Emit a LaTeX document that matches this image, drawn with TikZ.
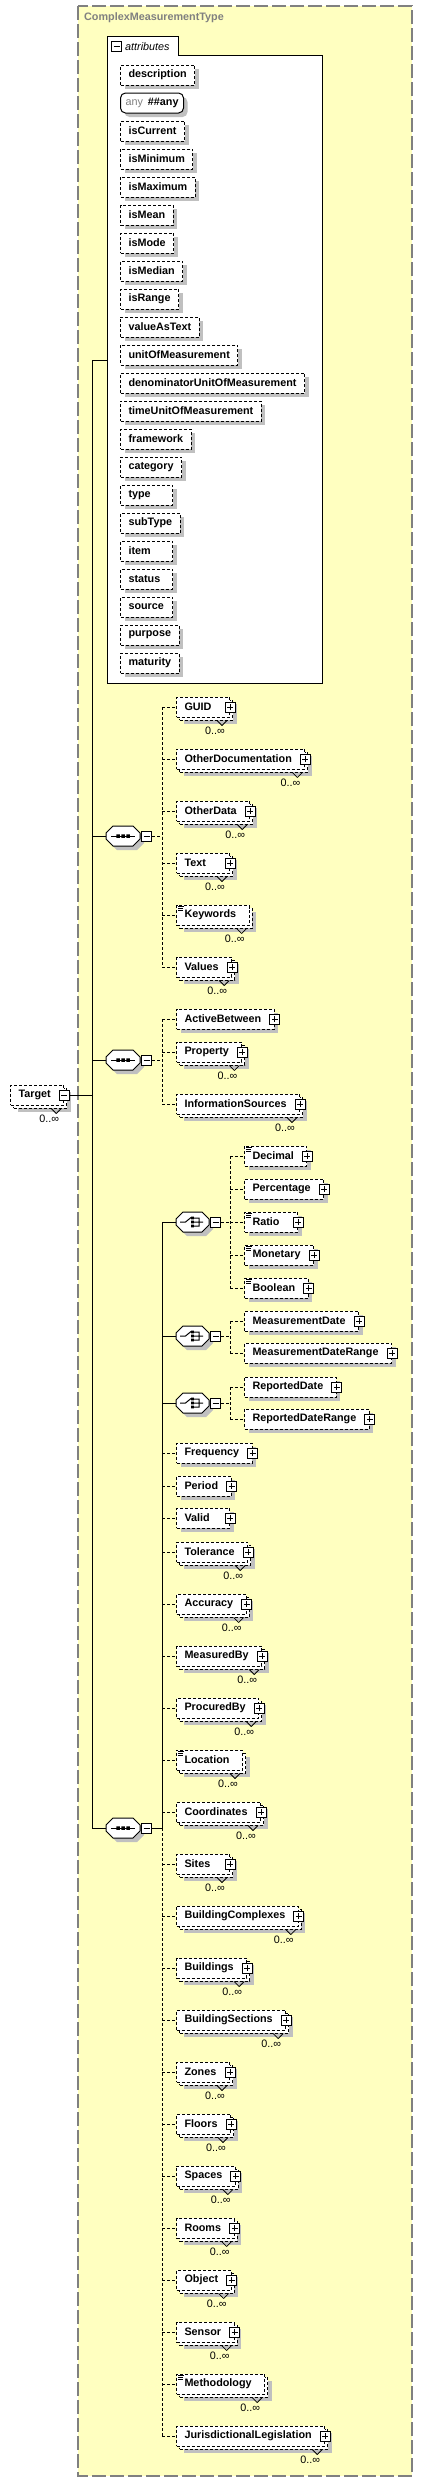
\documentclass[tikz,border=0pt]{standalone}
\usepackage{fontspec}
\setmainfont{Liberation Sans}
\usetikzlibrary{shadows,positioning}

\definecolor{bgyellow}{RGB}{255,255,192}
\definecolor{framegray}{RGB}{128,128,128}
\definecolor{shadowgray}{RGB}{192,192,192}

\tikzset{
  dashline/.style={dash pattern=on 3pt off 2pt},
  conn/.style={draw=black, line width=1pt},
  optconn/.style={conn, dashline},
  iconline/.style={draw=black, solid, line width=0.8pt},
  boxedge/.style={draw=black, solid, line width=1pt, fill=white, to path={rectangle (\tikztotarget)}},
  boxfont/.style={font=\fontsize{10.8}{13}\selectfont\bfseries},
  shade4/.style={drop shadow={shadow xshift=4pt, shadow yshift=-4pt, fill=shadowgray, opacity=1}},
  title/.style={font=\fontsize{10.8}{13}\selectfont\bfseries, text=framegray, anchor=west, inner sep=0pt},
  tabtext/.style={font=\fontsize{10.8}{13}\selectfont\itshape, anchor=west, inner sep=0pt},
  card/.style={font=\fontsize{10.8}{13}\selectfont, inner sep=0pt, text=black},
  attr/.style={boxfont, draw=black, line width=1pt, dashline, fill=white, anchor=west,
    minimum height=20pt, inner xsep=8pt, inner ysep=0pt, shade4,
    execute at begin node={\setbox0=\hbox\bgroup},
    execute at end node={\egroup\hbox to \ifdim\wd0<36pt 36pt\else\wd0\fi{\box0\hfil}}},
  anynode/.style={boxfont, draw=black, solid, line width=1pt, fill=white, anchor=west,
    rounded corners=5pt, minimum height=20pt, inner xsep=5pt, inner ysep=0pt, shade4},
  elem/.style={boxfont, draw=black, line width=1pt, dashline, fill=white, anchor=west,
    minimum height=20pt, inner xsep=8pt, inner ysep=0pt,
    execute at begin node={\setbox0=\hbox\bgroup},
    execute at end node={\egroup\hbox to \ifdim\wd0<32pt 32pt\else\wd0\fi{\box0\hfil}\hspace{5pt}}},
  single/.style={shade4},
  plus/.style={append after command={
    ([xshift=-5pt,yshift=-5pt]\tikzlastnode.east) edge[boxedge] ([xshift=5pt,yshift=5pt]\tikzlastnode.east)
    ([xshift=-3pt]\tikzlastnode.east) edge[iconline] ([xshift=3pt]\tikzlastnode.east)
    ([yshift=-3pt]\tikzlastnode.east) edge[iconline] ([yshift=3pt]\tikzlastnode.east)}},
  simple/.style={append after command={
    ([xshift=2pt,yshift=-1.5pt]\tikzlastnode.north west) edge[iconline] ([xshift=8pt,yshift=-1.5pt]\tikzlastnode.north west)
    ([xshift=2pt,yshift=-3.5pt]\tikzlastnode.north west) edge[iconline] ([xshift=7pt,yshift=-3.5pt]\tikzlastnode.north west)
    ([xshift=2pt,yshift=-5.5pt]\tikzlastnode.north west) edge[iconline] ([xshift=7pt,yshift=-5.5pt]\tikzlastnode.north west)}},
  multi/.style={
    drop shadow={shadow xshift=7pt, shadow yshift=-7pt, fill=shadowgray, opacity=1},
    general shadow={shadow xshift=3pt, shadow yshift=-3pt, fill=white, draw=black, line width=1pt, dashline},
    append after command={
      ([xshift=-13pt,yshift=-3pt]\tikzlastnode.south east) edge[iconline] ([xshift=-8pt,yshift=-8pt]\tikzlastnode.south east)
      ([xshift=-3pt,yshift=-3pt]\tikzlastnode.south east) edge[iconline] ([xshift=-8pt,yshift=-8pt]\tikzlastnode.south east)
      node[card] at ([xshift=-15pt,yshift=-13pt]\tikzlastnode.south east) {0..∞}}},
  minusbox/.style={draw=black, solid, line width=1pt, fill=white, minimum size=10pt, inner sep=0pt,
    path picture={\draw[line width=1pt] ([xshift=2pt]path picture bounding box.west) -- ([xshift=-2pt]path picture bounding box.east);}},
  seqshape/.style={draw=black, solid, line width=1pt, fill=white,
    to path={++(0pt,3pt) -- ++(7pt,7pt) -- ++(20pt,0pt) -- ++(7pt,-7pt) -- ++(0pt,-6pt) -- ++(-7pt,-7pt) -- ++(-20pt,0pt) -- ++(-7pt,7pt) -- cycle}},
  choiceshape/.style={draw=black, solid, line width=1pt, fill=white,
    to path={++(0pt,3pt) -- ++(7pt,7pt) -- ++(19pt,0pt) -- ++(7pt,-7pt) -- ++(0pt,-6pt) -- ++(-7pt,-7pt) -- ++(-19pt,0pt) -- ++(-7pt,7pt) -- cycle}},
  seqlines/.style={draw=black, solid, line width=1pt, to path={++(-12pt,0pt) -- ++(24pt,0pt)}},
  seqsquares/.style={draw=none, fill=black,
    to path={++(-6.75pt,-1.75pt) rectangle ++(3.5pt,3.5pt) (\tikztostart) ++(-1.75pt,-1.75pt) rectangle ++(3.5pt,3.5pt) (\tikztostart) ++(3.25pt,-1.75pt) rectangle ++(3.5pt,3.5pt)}},
  choicelines/.style={draw=black, solid, line width=1pt,
    to path={++(-12.5pt,0pt) -- ++(5.5pt,0pt) -- ++(5.5pt,4.5pt) (\tikztostart) ++(1.3pt,4pt) -- ++(5.2pt,0pt) -- ++(0pt,-8pt) -- ++(-5.2pt,0pt) (\tikztostart) ++(1.3pt,0pt) -- ++(9.2pt,0pt)}},
  choicesquares/.style={draw=none, fill=black,
    to path={++(-1.3pt,2.7pt) rectangle ++(2.6pt,2.6pt) (\tikztostart) ++(-1.3pt,-1.3pt) rectangle ++(2.6pt,2.6pt) (\tikztostart) ++(-1.3pt,-5.3pt) rectangle ++(2.6pt,2.6pt)}},
  seq/.style={rectangle, draw=none, minimum width=34pt, minimum height=20pt, inner sep=0pt, outer sep=0pt, anchor=west,
    append after command={
      ([xshift=4pt,yshift=-4pt]\tikzlastnode.west) edge[seqshape, draw=none, fill=shadowgray] (\tikzlastnode.west)
      (\tikzlastnode.west) edge[seqshape] (\tikzlastnode.west)
      (\tikzlastnode.center) edge[seqlines] (\tikzlastnode.center)
      (\tikzlastnode.center) edge[seqsquares] (\tikzlastnode.center)}},
  choice/.style={rectangle, draw=none, minimum width=33pt, minimum height=20pt, inner sep=0pt, outer sep=0pt, anchor=west,
    append after command={
      ([xshift=4pt,yshift=-4pt]\tikzlastnode.west) edge[choiceshape, draw=none, fill=shadowgray] (\tikzlastnode.west)
      (\tikzlastnode.west) edge[choiceshape] (\tikzlastnode.west)
      (\tikzlastnode.center) edge[choicelines] (\tikzlastnode.center)
      (\tikzlastnode.center) edge[choicesquares] (\tikzlastnode.center)}}
}

\begin{document}
\begin{tikzpicture}[x=1pt, y=-1pt]
\useasboundingbox (0,0) rectangle (423,2482);

\draw[fill=bgyellow, draw=framegray, line width=1.3pt, dash pattern=on 14pt off 4pt] (78,6) rectangle (412,2476);
\node[title] (ctitle) at (84,18) {ComplexMeasurementType};

\draw[fill=white, draw=black, line width=1pt] (107,683) -- (107,36) -- (178,36) -- (178,55) -- (322,55) -- (322,683) -- cycle;
\node[minusbox] (attrm) at (116.5,46.5) {};
\node[tabtext] (attrtab) at (125,46.5) {attributes};

\node[attr] (description) at (120,75) {description};
\node[anynode] (anyattr) at (120,103) {{\color{framegray}\mdseries any}\hspace{5pt}\#\#any};
\node[attr] (iscurrent) at (120,131) {isCurrent};
\node[attr] (isminimum) at (120,159) {isMinimum};
\node[attr] (ismaximum) at (120,187) {isMaximum};
\node[attr] (ismean) at (120,215) {isMean};
\node[attr] (ismode) at (120,243) {isMode};
\node[attr] (ismedian) at (120,271) {isMedian};
\node[attr] (isrange) at (120,299) {isRange};
\node[attr] (valueastext) at (120,327) {valueAsText};
\node[attr] (unitofm) at (120,355) {unitOfMeasurement};
\node[attr] (denomunit) at (120,383) {denominatorUnitOfMeasurement};
\node[attr] (timeunit) at (120,411) {timeUnitOfMeasurement};
\node[attr] (framework) at (120,439) {framework};
\node[attr] (category) at (120,467) {category};
\node[attr] (type) at (120,495) {type};
\node[attr] (subtype) at (120,523) {subType};
\node[attr] (item) at (120,551) {item};
\node[attr] (status) at (120,579) {status};
\node[attr] (source) at (120,607) {source};
\node[attr] (purpose) at (120,635) {purpose};
\node[attr] (maturity) at (120,663) {maturity};

\node[elem, multi] (target) at (10,1095) {Target};
\node[minusbox] (targetm) at (target.east) {};

\node[seq] (seqa) at (106,836) {};
\node[minusbox, right=1pt of seqa] (seqam) {};
\node[seq] (seqb) at (106,1060) {};
\node[minusbox, right=1pt of seqb] (seqbm) {};
\node[seq] (seqc) at (106,1828) {};
\node[minusbox, right=1pt of seqc] (seqcm) {};

\node[elem, plus, multi] (guid) at (176,707) {GUID};
\node[elem, plus, multi] (otherdoc) at (176,759) {OtherDocumentation};
\node[elem, plus, multi] (otherdata) at (176,811) {OtherData};
\node[elem, plus, multi] (textel) at (176,863) {Text};
\node[elem, simple, multi] (keywords) at (176,915) {Keywords};
\node[elem, plus, multi] (values) at (176,967) {Values};

\node[elem, plus, single] (activebetween) at (176,1019) {ActiveBetween};
\node[elem, plus, multi] (property) at (176,1052) {Property};
\node[elem, plus, multi] (infosrc) at (176,1104) {InformationSources};

\node[choice] (chca) at (176,1222) {};
\node[minusbox, right=1pt of chca] (chcam) {};
\node[choice] (chcb) at (176,1336) {};
\node[minusbox, right=1pt of chcb] (chcbm) {};
\node[choice] (chcc) at (176,1403) {};
\node[minusbox, right=1pt of chcc] (chccm) {};

\node[elem, plus, simple, single] (decimal) at (244,1156) {Decimal};
\node[elem, plus, single] (percentage) at (244,1189) {Percentage};
\node[elem, plus, simple, single] (ratio) at (244,1222) {Ratio};
\node[elem, plus, simple, single] (monetary) at (244,1255) {Monetary};
\node[elem, plus, simple, single] (boolean) at (244,1288) {Boolean};
\node[elem, plus, single] (measdate) at (244,1321) {MeasurementDate};
\node[elem, plus, single] (measdaterange) at (244,1353) {MeasurementDateRange};
\node[elem, plus, single] (repdate) at (244,1387) {ReportedDate};
\node[elem, plus, single] (repdaterange) at (244,1419) {ReportedDateRange};

\node[elem, plus, single] (frequency) at (176,1453) {Frequency};
\node[elem, plus, single] (period) at (176,1486) {Period};
\node[elem, plus, single] (valid) at (176,1518) {Valid};
\node[elem, plus, multi] (tolerance) at (176,1552) {Tolerance};
\node[elem, plus, multi] (accuracy) at (176,1604) {Accuracy};
\node[elem, plus, multi] (measuredby) at (176,1656) {MeasuredBy};
\node[elem, plus, multi] (procuredby) at (176,1708) {ProcuredBy};
\node[elem, simple, multi] (location) at (176,1760) {Location};
\node[elem, plus, multi] (coordinates) at (176,1812) {Coordinates};
\node[elem, plus, multi] (sites) at (176,1864) {Sites};
\node[elem, plus, multi] (bcomplexes) at (176,1916) {BuildingComplexes};
\node[elem, plus, multi] (buildings) at (176,1968) {Buildings};
\node[elem, plus, multi] (bsections) at (176,2020) {BuildingSections};
\node[elem, plus, multi] (zones) at (176,2072) {Zones};
\node[elem, plus, multi] (floors) at (176,2124) {Floors};
\node[elem, plus, multi] (spaces) at (176,2176) {Spaces};
\node[elem, plus, multi] (rooms) at (176,2228) {Rooms};
\node[elem, plus, multi] (object) at (176,2280) {Object};
\node[elem, plus, multi] (sensor) at (176,2332) {Sensor};
\node[elem, simple, multi] (methodology) at (176,2384) {Methodology};
\node[elem, plus, multi] (jurisleg) at (176,2436) {JurisdictionalLegislation};

\coordinate (trunk) at (92,360);
\coordinate (attrin) at (107,360);
\draw[conn] (trunk) -- (attrin);
\draw[conn] (trunk) -- (trunk |- seqc.west);
\draw[conn] (targetm.east) -- (targetm.east -| trunk);
\draw[conn] (seqa.west -| trunk) -- (seqa.west);
\draw[conn] (seqb.west -| trunk) -- (seqb.west);
\draw[conn] (seqc.west -| trunk) -- (seqc.west);

\coordinate (ja) at ([xshift=10pt]seqam.east);
\draw[optconn] (seqam.east) -- (ja);
\draw[optconn] (ja |- guid.west) -- (ja |- values.west);
\draw[optconn] (ja |- guid.west) -- (guid.west);
\draw[optconn] (ja |- otherdoc.west) -- (otherdoc.west);
\draw[optconn] (ja |- otherdata.west) -- (otherdata.west);
\draw[optconn] (ja |- textel.west) -- (textel.west);
\draw[optconn] (ja |- keywords.west) -- (keywords.west);
\draw[optconn] (ja |- values.west) -- (values.west);

\coordinate (jb) at ([xshift=10pt]seqbm.east);
\draw[optconn] (seqbm.east) -- (jb);
\draw[optconn] (jb |- activebetween.west) -- (jb |- infosrc.west);
\draw[optconn] (jb |- activebetween.west) -- (activebetween.west);
\draw[optconn] (jb |- property.west) -- (property.west);
\draw[optconn] (jb |- infosrc.west) -- (infosrc.west);

\coordinate (jc) at ([xshift=10pt]seqcm.east);
\draw[conn] (seqcm.east) -- (jc);
\draw[conn] (jc |- chca.west) -- (jc);
\draw[optconn] (jc) -- (jc |- jurisleg.west);
\draw[conn] (jc |- chca.west) -- (chca.west);
\draw[conn] (jc |- chcb.west) -- (chcb.west);
\draw[conn] (jc |- chcc.west) -- (chcc.west);
\draw[optconn] (jc |- frequency.west) -- (frequency.west);
\draw[optconn] (jc |- period.west) -- (period.west);
\draw[optconn] (jc |- valid.west) -- (valid.west);
\draw[optconn] (jc |- tolerance.west) -- (tolerance.west);
\draw[optconn] (jc |- accuracy.west) -- (accuracy.west);
\draw[optconn] (jc |- measuredby.west) -- (measuredby.west);
\draw[optconn] (jc |- procuredby.west) -- (procuredby.west);
\draw[optconn] (jc |- location.west) -- (location.west);
\draw[optconn] (jc |- coordinates.west) -- (coordinates.west);
\draw[optconn] (jc |- sites.west) -- (sites.west);
\draw[optconn] (jc |- bcomplexes.west) -- (bcomplexes.west);
\draw[optconn] (jc |- buildings.west) -- (buildings.west);
\draw[optconn] (jc |- bsections.west) -- (bsections.west);
\draw[optconn] (jc |- zones.west) -- (zones.west);
\draw[optconn] (jc |- floors.west) -- (floors.west);
\draw[optconn] (jc |- spaces.west) -- (spaces.west);
\draw[optconn] (jc |- rooms.west) -- (rooms.west);
\draw[optconn] (jc |- object.west) -- (object.west);
\draw[optconn] (jc |- sensor.west) -- (sensor.west);
\draw[optconn] (jc |- methodology.west) -- (methodology.west);
\draw[optconn] (jc |- jurisleg.west) -- (jurisleg.west);

\coordinate (ka) at ([xshift=9pt]chcam.east);
\draw[optconn] (chcam.east) -- (ka);
\draw[optconn] (ka |- decimal.west) -- (ka |- boolean.west);
\draw[optconn] (ka |- decimal.west) -- (decimal.west);
\draw[optconn] (ka |- percentage.west) -- (percentage.west);
\draw[optconn] (ka |- ratio.west) -- (ratio.west);
\draw[optconn] (ka |- monetary.west) -- (monetary.west);
\draw[optconn] (ka |- boolean.west) -- (boolean.west);

\coordinate (kb) at ([xshift=9pt]chcbm.east);
\draw[optconn] (chcbm.east) -- (kb);
\draw[optconn] (kb |- measdate.west) -- (kb |- measdaterange.west);
\draw[optconn] (kb |- measdate.west) -- (measdate.west);
\draw[optconn] (kb |- measdaterange.west) -- (measdaterange.west);

\coordinate (kc) at ([xshift=9pt]chccm.east);
\draw[optconn] (chccm.east) -- (kc);
\draw[optconn] (kc |- repdate.west) -- (kc |- repdaterange.west);
\draw[optconn] (kc |- repdate.west) -- (repdate.west);
\draw[optconn] (kc |- repdaterange.west) -- (repdaterange.west);
\end{tikzpicture}
\end{document}
